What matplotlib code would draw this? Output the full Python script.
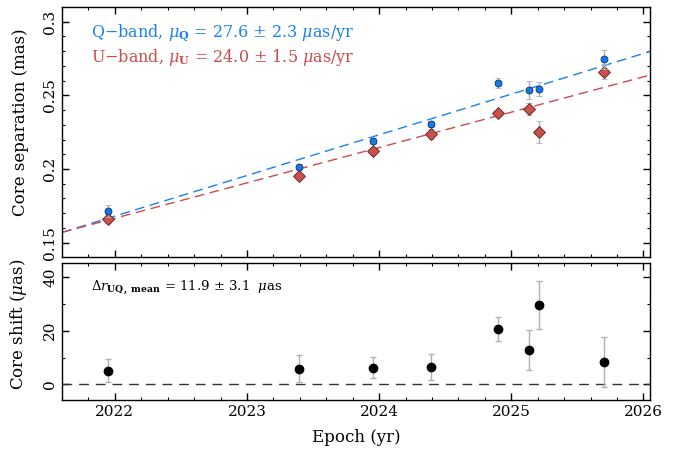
import numpy as np
import matplotlib
matplotlib.use("Agg")
import matplotlib.pyplot as plt
from matplotlib.ticker import MultipleLocator, FuncFormatter

plt.rcParams['font.family'] = ['DejaVu Serif']
plt.rcParams['mathtext.fontset'] = 'dejavuserif'

# data
epoch = [2021.95, 2023.39, 2023.95, 2024.39, 2024.90, 2025.13, 2025.21, 2025.70]

r_q = [0.1714, 0.2011, 0.2188, 0.2303, 0.2587, 0.2537, 0.2544, 0.2745]
r_q_err = [0.004, 0.002, 0.002, 0.002, 0.0034, 0.006, 0.005, 0.0065]
r_u = [0.1664, 0.1952, 0.2124, 0.2238, 0.2381, 0.2408, 0.2249, 0.2662]
r_u_err = [0.003, 0.002, 0.002, 0.0036, 0.002, 0.004, 0.0074, 0.005]

shift = [5.1, 5.8, 6.3, 6.5, 20.7, 12.8, 29.5, 8.5]
shift_err = [4.2, 5.0, 3.8, 4.8, 4.4, 7.4, 8.9, 9.3]

# linear fits: r = r0 + mu * (t - t0)
fit_t0 = 2021.6
fit_r0 = 0.157
mu_q = 0.0276   # mas/yr
mu_u = 0.0240

blue = '#1a82f0'
red = '#cc4b4b'
errc = '#b0b0b0'

fig = plt.figure(figsize=(6.8, 4.5), dpi=100)
ax1 = fig.add_axes([0.0912, 0.4296, 0.8648, 0.5542])
ax2 = fig.add_axes([0.0912, 0.1111, 0.8648, 0.3038])

xlim = (2021.6, 2026.05)

# ---- top panel: core separation
tt = np.array(xlim)
ax1.plot(tt, fit_r0 + mu_q * (tt - fit_t0), ls=(0, (7, 4)), color=blue, lw=1)
ax1.plot(tt, fit_r0 + mu_u * (tt - fit_t0), ls=(0, (7, 4)), color=red, lw=1)

ax1.errorbar(epoch, r_u, yerr=r_u_err, fmt='D', ms=6, mfc='#c9514d', mec='#5a1f1f',
             mew=0.6, ecolor=errc, elinewidth=1, capsize=2, zorder=3)
ax1.errorbar(epoch, r_q, yerr=r_q_err, fmt='o', ms=5, mfc='#1478e6', mec='#10306a',
             mew=0.6, ecolor=errc, elinewidth=1, capsize=2, zorder=4)

ax1.text(0.05, 0.895, r'Q$-$band, $\mu_{\mathbf{Q}}$ = 27.6 $\pm$ 2.3 $\mu$as/yr',
         color=blue, fontsize=11.5, transform=ax1.transAxes, va='center')
ax1.text(0.05, 0.80, r'U$-$band, $\mu_{\mathbf{U}}$ = 24.0 $\pm$ 1.5 $\mu$as/yr',
         color=red, fontsize=11.5, transform=ax1.transAxes, va='center')

ax1.set_xlim(xlim)
ax1.set_ylim(0.1405, 0.3098)
ax1.set_ylabel('Core separation (mas)', fontsize=12)
ax1.yaxis.set_label_coords(-0.056, 0.54)
ax1.yaxis.set_major_locator(MultipleLocator(0.05))
ax1.yaxis.set_minor_locator(MultipleLocator(0.01))
ax1.yaxis.set_major_formatter(FuncFormatter(lambda v, p: '%g' % round(v, 3)))
ax1.tick_params(labelbottom=False)

# ---- bottom panel: core shift
ax2.axhline(0, color='#333333', lw=1, ls=(0, (7, 5)))
ax2.errorbar(epoch, shift, yerr=shift_err, fmt='o', ms=6, color='black',
             ecolor=errc, elinewidth=1, capsize=2, zorder=3)
ax2.text(0.05, 0.82, r'$\Delta r_{\mathbf{UQ,\ mean}}$ = 11.9 $\pm$ 3.1  $\mu$as',
         color='black', fontsize=9.5, transform=ax2.transAxes, va='center')

ax2.set_xlim(xlim)
ax2.set_ylim(-5.8, 45.1)
ax2.set_ylabel(r'Core shift ($\mu$as)', fontsize=12)
ax2.yaxis.set_label_coords(-0.056, 0.55)
ax2.set_xlabel('Epoch (yr)', fontsize=12, labelpad=7)
ax2.yaxis.set_major_locator(MultipleLocator(20))
ax2.yaxis.set_minor_locator(MultipleLocator(10))

for ax in (ax1, ax2):
    ax.xaxis.set_major_locator(MultipleLocator(1))
    ax.xaxis.set_minor_locator(MultipleLocator(0.2))
    ax.tick_params(which='both', direction='in', top=True, right=True, labelsize=11)
    ax.tick_params(which='major', length=5, width=1)
    ax.tick_params(which='minor', length=2.5, width=0.8)
    ax.tick_params(axis='y', labelrotation=90)
    for lbl in ax.get_yticklabels():
        lbl.set_va('center')
    for s in ax.spines.values():
        s.set_linewidth(1)

fig.savefig('out.png', dpi=100)
